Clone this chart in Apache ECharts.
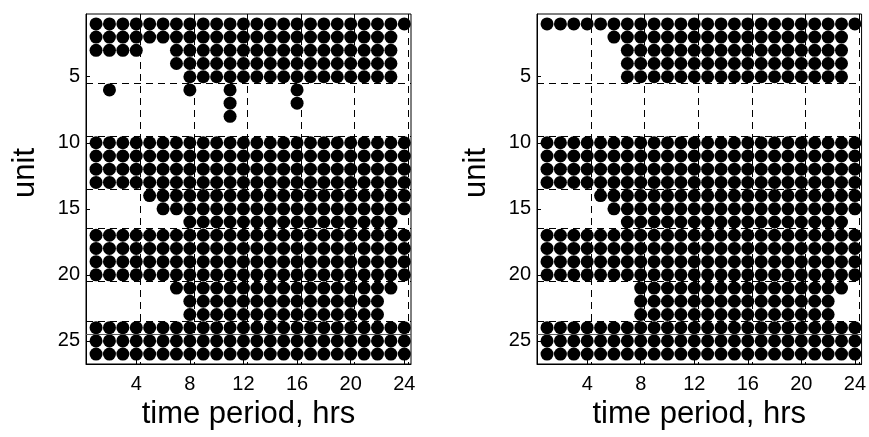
<!DOCTYPE html>
<html>
<head>
<meta charset="utf-8">
<script src="https://cdn.jsdelivr.net/npm/echarts@6/dist/echarts.min.js"></script>
<style>
  html, body { margin: 0; padding: 0; background: #fff; }
  #chart { width: 869px; height: 437px; }
</style>
</head>
<body>
<div id="chart"></div>
<script>
// Unit commitment schedules: one string per unit (1..26), one character per hour (1..24).
// '#' = unit on, '.' = unit off.
const scheduleA = [
  '########################',
  '#######################.',
  '####..#################.',
  '......#################.',
  '.......################.',
  '.#.....#..#....#........',
  '..........#....#........',
  '..........#.............',
  '........................',
  '########################',
  '########################',
  '########################',
  '########################',
  '....####################',
  '.....###################',
  '.......################.',
  '########################',
  '########################',
  '########################',
  '########################',
  '......#################.',
  '.......###############..',
  '.......###############..',
  '########################',
  '########################',
  '########################'
];
const scheduleB = [
  '########################',
  '.....##################.',
  '......#################.',
  '......#################.',
  '......#################.',
  '........................',
  '........................',
  '........................',
  '........................',
  '########################',
  '########################',
  '########################',
  '########################',
  '....####################',
  '.....###################',
  '......#################.',
  '########################',
  '########################',
  '########################',
  '########################',
  '.......################.',
  '.......###############..',
  '.......###############..',
  '########################',
  '########################',
  '########################'
];

// Axis labels and group separators
const hourLabels = [4, 8, 12, 16, 20, 24];
const hourGridLines = [4.3, 8.3, 12.3, 16.3, 20.3, 24.3];
const unitLabels = [5, 10, 15, 20, 25];
const unitGroupLines = [5.5, 9.5, 13.5, 16.5, 20.5, 23.5];
const unitSolidLines = [24.5];

function toPoints(schedule) {
  const pts = [];
  schedule.forEach(function (row, u) {
    for (let h = 0; h < row.length; h++) {
      if (row[h] === '#') pts.push([h + 1, u + 1]);
    }
  });
  return pts;
}

const FONT = 'Liberation Sans, Arial, sans-serif';

function xAxisFor(gridIndex) {
  return {
    type: 'value', gridIndex: gridIndex,
    min: 0.25, max: 24.5,
    name: 'time period, hrs', nameLocation: 'middle', nameGap: 30,
    nameTextStyle: { fontFamily: FONT, fontSize: 31, color: '#000' },
    axisLine: { show: true, lineStyle: { color: '#000', width: 1 } },
    axisTick: { show: true, inside: true, length: 4, customValues: hourLabels, lineStyle: { color: '#000' } },
    axisLabel: { customValues: hourLabels, fontFamily: FONT, fontSize: 20, color: '#000', margin: 10 },
    splitLine: { show: false }
  };
}
function yAxisFor(gridIndex) {
  return {
    type: 'value', gridIndex: gridIndex, inverse: true,
    min: 0.25, max: 26.75,
    name: 'unit', nameLocation: 'middle', nameGap: 45,
    nameTextStyle: { fontFamily: FONT, fontSize: 31, color: '#000', padding: [0, 0, 0, 32] },
    axisLine: { show: true, lineStyle: { color: '#000', width: 1 } },
    axisTick: { show: true, inside: true, length: 4, customValues: unitLabels, lineStyle: { color: '#000' } },
    axisLabel: { customValues: unitLabels, fontFamily: FONT, fontSize: 20, color: '#000', margin: 6 },
    splitLine: { show: false }
  };
}

function separators() {
  const data = [];
  unitGroupLines.forEach(function (v) { data.push({ yAxis: v }); });
  hourGridLines.forEach(function (v) { data.push({ xAxis: v }); });
  unitSolidLines.forEach(function (v) {
    data.push({ yAxis: v, lineStyle: { type: 'solid', color: '#555', width: 1 } });
  });
  return {
    silent: true, symbol: 'none', animation: false,
    label: { show: false },
    lineStyle: { color: '#000', width: 1, type: [7, 5], opacity: 1 },
    data: data
  };
}

function seriesFor(gridIndex, schedule) {
  return {
    type: 'scatter', xAxisIndex: gridIndex, yAxisIndex: gridIndex,
    symbol: 'circle', symbolSize: 13,
    itemStyle: { color: '#000', opacity: 1 },
    emphasis: { disabled: true },
    data: toPoints(schedule),
    markLine: separators(),
    animation: false
  };
}

const chart = echarts.init(document.getElementById('chart'));
chart.setOption({
  backgroundColor: '#fff',
  animation: false,
  grid: [
    { left: 86, top: 14, width: 325, height: 350, show: true, borderColor: '#000', borderWidth: 1 },
    { left: 537, top: 14, width: 326, height: 350, show: true, borderColor: '#000', borderWidth: 1 }
  ],
  xAxis: [xAxisFor(0), xAxisFor(1)],
  yAxis: [yAxisFor(0), yAxisFor(1)],
  series: [seriesFor(0, scheduleA), seriesFor(1, scheduleB)]
});
</script>
</body>
</html>
